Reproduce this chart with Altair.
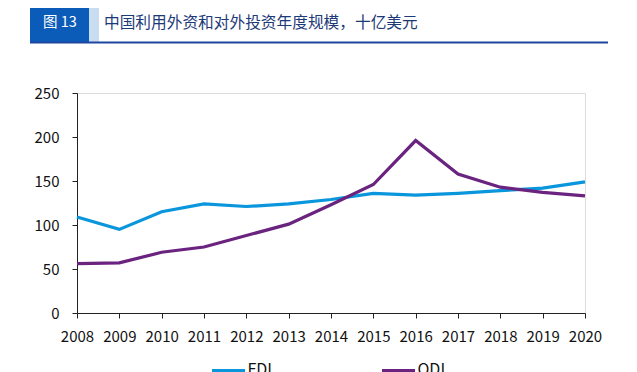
import altair as alt
import pandas as pd

years = [2008, 2009, 2010, 2011, 2012, 2013, 2014, 2015, 2016, 2017, 2018, 2019, 2020]
fdi = [109, 95, 115, 124, 121, 124, 129, 136, 134, 136, 139, 142, 149]
odi = [56, 57, 69, 75, 88, 101, 123, 146, 196, 158, 143, 137, 133]
series = ["FDI", "ODI"]
colors = ["#0a96dc", "#6a237e"]
title_text = "中国利用外资和对外投资年度规模，十亿美元"
fig_label = "图 13"
FONT = "Noto Sans CJK SC"

rows = []
for name, vals in zip(series, [fdi, odi]):
    for y, v in zip(years, vals):
        rows.append({"year": str(y), "value": v, "series": name})
df = pd.DataFrame(rows)

lines = alt.Chart(df).mark_line(strokeWidth=3.2).encode(
    x=alt.X("year:O", scale=alt.Scale(type="point", padding=0),
            axis=alt.Axis(title=None, labelAngle=0, tickSize=5, labelPadding=11,
                          domainColor="#222", tickColor="#222", labelColor="#111",
                          labelFontSize=15, labelFont=FONT, grid=False)),
    y=alt.Y("value:Q", scale=alt.Scale(domain=[0, 250], nice=False),
            axis=alt.Axis(title=None, values=[0, 50, 100, 150, 200, 250], tickSize=5,
                          labelPadding=13, domainColor="#222", tickColor="#222",
                          labelColor="#111", labelFontSize=15, labelFont=FONT, grid=False)),
    color=alt.Color("series:N", scale=alt.Scale(domain=series, range=colors), legend=None),
)

one = pd.DataFrame({"t": [title_text], "f": [fig_label]})
box = alt.Chart(one).mark_rect(color="#0b5cb8").encode(
    x=alt.value(-47), x2=alt.value(12), y=alt.value(-90), y2=alt.value(-51))
strip = alt.Chart(one).mark_rect(color="#cadcf0").encode(
    x=alt.value(12), x2=alt.value(22), y=alt.value(-90), y2=alt.value(-51))
underline = alt.Chart(one).mark_rule(color="#1f46a0", strokeWidth=2).encode(
    x=alt.value(-47), x2=alt.value(531), y=alt.value(-50.5))
fig_txt = alt.Chart(one).mark_text(color="white", fontSize=14.5, font=FONT,
                                   align="center", baseline="middle").encode(
    x=alt.value(-17), y=alt.value(-70), text="f:N")
ttl = alt.Chart(one).mark_text(color="#1d3a78", fontSize=15.7, font=FONT,
                               align="left", baseline="middle").encode(
    x=alt.value(27), y=alt.value(-70), text="t:N")

# manual legend at the bottom (partly cut off, as in the reference)
legend_layers = []
for i, (name, col) in enumerate(zip(series, colors)):
    x0 = 135 + i * 170
    ld = pd.DataFrame({"s": [name]})
    legend_layers.append(alt.Chart(ld).mark_rule(color=col, strokeWidth=3.2).encode(
        x=alt.value(x0), x2=alt.value(x0 + 33), y=alt.value(277.5)))
    legend_layers.append(alt.Chart(ld).mark_text(color="#111", fontSize=16, font=FONT,
                                                 align="left", baseline="alphabetic").encode(
        x=alt.value(x0 + 35.5), y=alt.value(282), text="s:N"))

chart = alt.layer(lines, box, strip, underline, fig_txt, ttl, *legend_layers).properties(
    width=508, height=220,
    autosize=alt.AutoSizeParams(type="none"),
    padding={"left": 69, "top": 85, "right": 44, "bottom": 59},
).configure_view(stroke=None).configure(background="white")

chart.save("out.html", embed_options={"renderer": "svg", "actions": False})
